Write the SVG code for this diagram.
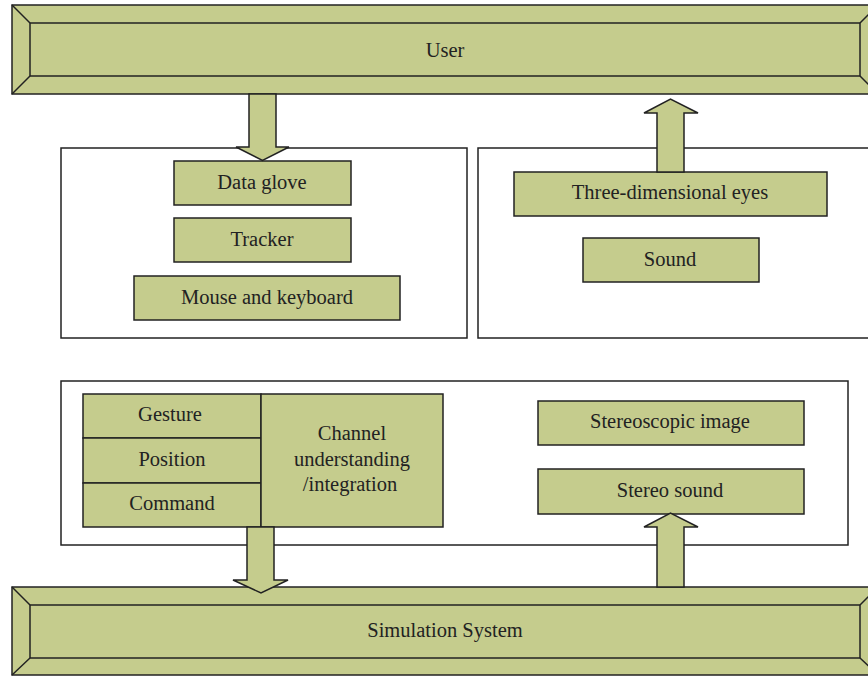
<svg xmlns="http://www.w3.org/2000/svg" width="868" height="676" viewBox="0 0 868 676">
<style>
.f{fill:#c5cc8d;stroke:#222;stroke-width:1.5}
.p{fill:#fff;stroke:#222;stroke-width:1.5}
.b{fill:none;stroke:#222;stroke-width:1.5}
text{font-family:"Liberation Serif","DejaVu Serif",serif;font-size:20.5px;fill:#222;text-anchor:middle;dominant-baseline:central}
</style>
<rect width="868" height="676" fill="#fff"/>
<g id="user">
<rect class="f" x="12" y="5" width="866" height="89"/>
<rect class="f" x="30" y="23" width="830" height="53"/>
<path class="b" d="M12 5L30 23M12 94L30 76M878 5L860 23M878 94L860 76"/>
<text x="445" y="50">User</text>
</g>
<g id="input-panel">
<rect class="p" x="61" y="148" width="406" height="190"/>
</g>
<g id="output-panel">
<rect class="p" x="478" y="148" width="392" height="190"/>
</g>
<g id="data-glove"><rect class="f" x="174" y="161" width="177" height="44"/><text x="262" y="182">Data glove</text></g>
<g id="tracker"><rect class="f" x="174" y="218" width="177" height="44"/><text x="262" y="239">Tracker</text></g>
<g id="mouse-keyboard"><rect class="f" x="134" y="276" width="266" height="44"/><text x="267" y="297">Mouse and keyboard</text></g>
<g id="three-d-eyes"><rect class="f" x="514" y="172" width="313" height="44"/><text x="670" y="192">Three-dimensional eyes</text></g>
<g id="sound"><rect class="f" x="583" y="238" width="176" height="44"/><text x="670" y="259">Sound</text></g>
<g id="middle-panel">
<rect class="p" x="61" y="381" width="787" height="164"/>
</g>
<g id="gesture"><rect class="f" x="83" y="394" width="178" height="44"/><text x="170" y="414">Gesture</text></g>
<g id="position"><rect class="f" x="83" y="438" width="178" height="45"/><text x="172" y="459">Position</text></g>
<g id="command"><rect class="f" x="83" y="483" width="178" height="44"/><text x="172" y="503">Command</text></g>
<g id="channel"><rect class="f" x="261" y="394" width="182" height="133"/>
<text x="352" y="433">Channel</text><text x="352" y="459">understanding</text><text x="350" y="484">/integration</text></g>
<g id="stereo-image"><rect class="f" x="538" y="401" width="266" height="44"/><text x="670" y="421">Stereoscopic image</text></g>
<g id="stereo-sound"><rect class="f" x="538" y="469" width="266" height="45"/><text x="670" y="490">Stereo sound</text></g>
<g id="simulation">
<rect class="f" x="12" y="587" width="866" height="88"/>
<rect class="f" x="30" y="605" width="830" height="53"/>
<path class="b" d="M12 587L30 605M12 675L30 658M878 587L860 605M878 675L860 658"/>
<text x="445" y="630">Simulation System</text>
</g>
<g id="connectors">
<path class="f" d="M249 94H276V147H289L262.5 160.5L236 147H249Z"/>
<path class="f" d="M657 172V113H644L670.5 99L698 113H684V172Z"/>
<path class="f" d="M247 527H274V580H288L261 593L233 580H247Z"/>
<path class="f" d="M657 587V527H644L670.5 513L698 527H684V587Z"/>
</g>
</svg>
